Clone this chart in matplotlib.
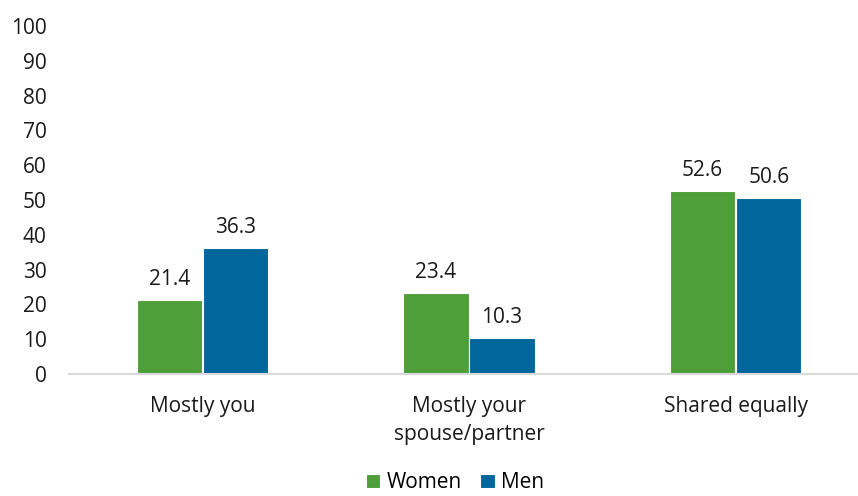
import matplotlib.pyplot as plt
import numpy as np

categories = ['Mostly you', 'Mostly your\nspouse/partner', 'Shared equally']
women = [21.4, 23.4, 52.6]
men = [36.3, 10.3, 50.6]
series_names = ['Women', 'Men']
colors = ['#4E9E3A', '#00669C']

plt.rcParams['font.family'] = ['Open Sans', 'DejaVu Sans']
fs = 15

fig = plt.figure(figsize=(8.58, 4.96), dpi=100)
ax = fig.add_axes([69 / 858, 122 / 496, 800 / 858, 348 / 496])

x = np.arange(len(categories))
width = 0.245
offset = 0.124

bars_w = ax.bar(x - offset, women, width, color=colors[0], edgecolor='white',
                linewidth=0.8, label=series_names[0], zorder=2)
bars_m = ax.bar(x + offset, men, width, color=colors[1], edgecolor='white',
                linewidth=0.8, label=series_names[1], zorder=2)

for bars in (bars_w, bars_m):
    for b in bars:
        ax.annotate(f'{b.get_height():.1f}', (b.get_x() + b.get_width() / 2, b.get_height()),
                    xytext=(0, 7), textcoords='offset points', ha='center', va='bottom',
                    fontsize=fs, color='#1a1a1a')

ax.set_xlim(-0.5, 2.5)
ax.set_ylim(0, 100)
ax.set_yticks(np.arange(0, 101, 10))
ax.set_xticks(x)
ax.set_xticklabels(categories, linespacing=1.45)
ax.tick_params(axis='both', length=0, labelsize=fs, colors='#1a1a1a')
ax.tick_params(axis='y', pad=16)
ax.tick_params(axis='x', pad=16)

for side in ('left', 'right', 'top'):
    ax.spines[side].set_visible(False)
ax.spines['bottom'].set_color('#D9D9D9')
ax.spines['bottom'].set_linewidth(1.5)

fig.legend(loc='lower center', bbox_to_anchor=(455 / 858, -0.032), ncol=2, frameon=False,
           fontsize=fs, handlelength=0.7, handleheight=0.7, handletextpad=0.3,
           columnspacing=0.9)

fig.savefig('out.png', dpi=100)
